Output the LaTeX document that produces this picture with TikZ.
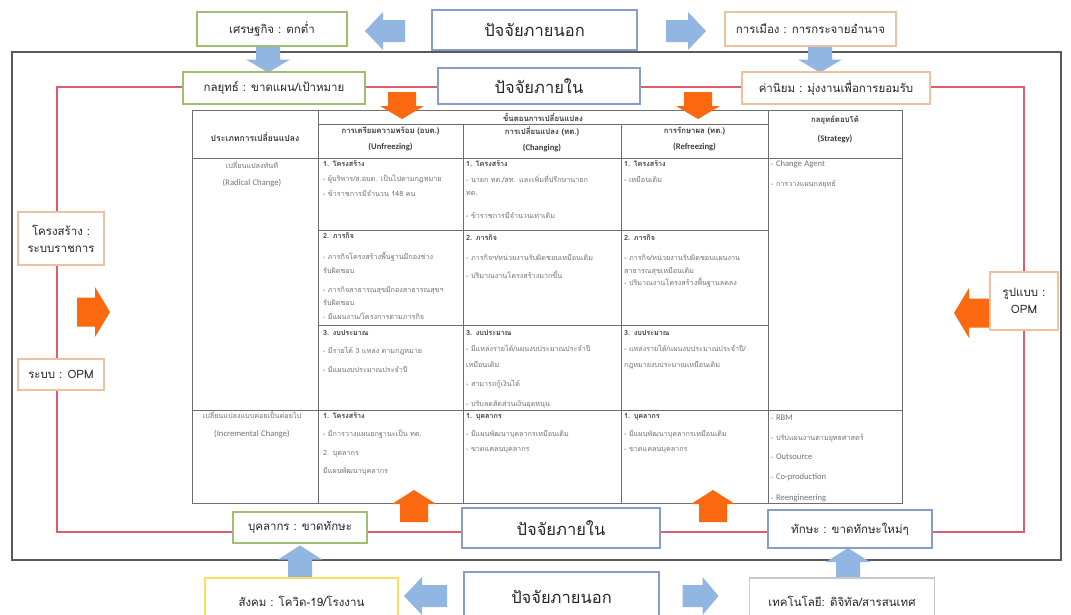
\documentclass[tikz,border=0pt]{standalone}
\usepackage{fontspec}
\setmainfont{Loma}[Script=Thai]
\newfontfamily\latfont{Carlito}
\definecolor{framegray}{RGB}{90,90,90}
\definecolor{redline}{RGB}{222,92,110}
\definecolor{bgreen}{RGB}{160,190,112}
\definecolor{bblue}{RGB}{132,158,200}
\definecolor{borange}{RGB}{236,192,160}
\definecolor{byellow}{RGB}{255,222,90}
\definecolor{bgrey}{RGB}{200,200,200}
\definecolor{arrblue}{RGB}{145,182,225}
\definecolor{arrorange}{RGB}{250,105,15}
\definecolor{tline}{RGB}{110,110,110}
\definecolor{ttext}{RGB}{115,115,115}
\definecolor{thead}{RGB}{60,60,60}
\newcommand\cellhead[1]{{\color{thead}\bfseries #1}}
\newcommand\lat[1]{{\latfont\fontsize{8.6}{15}\selectfont #1}}
\tikzset{
  box/.style={draw, fill=white, line width=1.2pt, inner sep=2pt, align=center,
    text=black!85, font=\fontsize{11.5}{17}\selectfont},
  factor/.style={box, font=\fontsize{16.5}{20}\selectfont},
  cell/.style={anchor=base west, inner sep=0pt, align=left, text width=150pt,
    text=ttext, font=\fontsize{7.2}{15}\selectfont},
  headtxt/.style={inner sep=0pt, align=center, text=thead,
    font=\bfseries\fontsize{7.8}{16}\selectfont},
  % block arrow pointing along +x, centred on its origin:
  % length, head width, shaft width, head length, colour
  pics/barrow/.style n args={5}{code={
    \fill[#5] (-#1/2,-#3/2) -- (#1/2-#4,-#3/2) -- (#1/2-#4,-#2/2) -- (#1/2,0)
      -- (#1/2-#4,#2/2) -- (#1/2-#4,#3/2) -- (-#1/2,#3/2) -- cycle;
  }}
}
\begin{document}
\begin{tikzpicture}[x=1pt,y=-1pt]
\useasboundingbox (0,0) rectangle (1071,614);
\clip (0,0) rectangle (1071,614);
\fill[white] (0,0) rectangle (1071,614);

% organisation frame and internal-factor loop
\draw[framegray, line width=1.6pt] (12,52) rectangle (1061,560);
\draw[redline, line width=1.3pt] (57,87) rectangle (1024,532);

% ---------- change table ----------
\draw[tline, line width=0.8pt] (192,110) rectangle (902,503);
\draw[tline, line width=0.8pt]
  (318,110) -- (318,503) (768,110) -- (768,503)
  (463,124) -- (463,503) (621,124) -- (621,503)
  (318,124) -- (768,124)
  (192,158) -- (902,158)
  (318,230) -- (768,230)
  (318,325) -- (768,325)
  (192,410) -- (902,410);

% header
\node[headtxt, font=\bfseries\fontsize{8.6}{16}\selectfont] (hType) at (255,137) {ประเภทการเปลี่ยนแปลง};
\node[headtxt] (hSteps) at (543,117) {ขั้นตอนการเปลี่ยนแปลง};
\node[headtxt] (hUnf) at (390.5,139) {การเตรียมความพร้อม (อบต.)\\\lat{(Unfreezing)}};
\node[headtxt] (hChg) at (542,139) {การเปลี่ยนแปลง (ทต.)\\\lat{(Changing)}};
\node[headtxt] (hRef) at (694.5,139) {การรักษาผล (ทต.)\\\lat{(Refreezing)}};
\node[headtxt] (hStr) at (835,129) {กลยุทธ์ตอบโต้\\[3pt]\lat{(Strategy)}};

% row 1 : radical change
\node[cell, anchor=center, align=center, text width=120pt] (rRad) at (252,174)
  {เปลี่ยนแปลงทันที\\[2pt]\lat{(Radical Change)}};
\node[cell] (u1) at (323,166) {\cellhead{1. โครงสร้าง}\\[0.5pt]
  - ผู้บริหาร/ส.อบต. เป็นไปตามกฎหมาย\\
  - ข้าราชการมีจำนวน 148 คน};
\node[cell] (u2) at (323,238) {\cellhead{2. ภารกิจ}\\[6pt]
  - ภารกิจโครงสร้างพื้นฐานมีกองช่าง\\[-1pt]
  รับผิดชอบ\\[4pt]
  - ภารกิจสาธารณสุขมีกองสาธารณสุขฯ\\[-2pt]
  รับผิดชอบ\\[-1pt]
  - มีแผนงาน/โครงการตามภารกิจ};
\node[cell] (u3) at (323,335) {\cellhead{3. งบประมาณ}\\[3pt]
  - มีรายได้ 3 แหล่ง ตามกฎหมาย\\[4pt]
  - มีแผนงบประมาณประจำปี};
\node[cell] (c1) at (466,166) {\cellhead{1. โครงสร้าง}\\[1pt]
  - นายก ทต./สท. และเพิ่มที่ปรึกษานายก\\[-2pt]
  ทต.\\[8pt]
  - ข้าราชการมีจำนวนเท่าเดิม};
\node[cell] (c2) at (466,240) {\cellhead{2. ภารกิจ}\\[5pt]
  - ภารกิจฯ/หน่วยงานรับผิดชอบเหมือนเดิม\\[3pt]
  - ปริมาณงานโครงสร้างมากขึ้น};
\node[cell] (c3) at (466,335) {\cellhead{3. งบประมาณ}\\[1pt]
  - มีแหล่งรายได้/แผนงบประมาณประจำปี\\[1pt]
  เหมือนเดิม\\[4pt]
  - สามารถกู้เงินได้\\[5pt]
  - ปรับลดสัดส่วนเงินอุดหนุน};
\node[cell] (f1) at (624,166) {\cellhead{1. โครงสร้าง}\\[1pt]
  - เหมือนเดิม};
\node[cell] (f2) at (624,240) {\cellhead{2. ภารกิจ}\\[5pt]
  - ภารกิจ/หน่วยงานรับผิดชอบแผนงาน\\[-2pt]
  สาธารณสุขเหมือนเดิม\\[-3pt]
  - ปริมาณงานโครงสร้างพื้นฐานลดลง};
\node[cell] (f3) at (624,335) {\cellhead{3. งบประมาณ}\\[1pt]
  - แหล่งรายได้/แผนงบประมาณประจำปี/\\[1pt]
  กฎหมายงบประมาณเหมือนเดิม};
\node[cell] (s1) at (771,166) {- \lat{Change Agent}\\[5pt]
  - การวางแผนกลยุทธ์};

% row 2 : incremental change
\node[cell, anchor=center, align=center, text width=124pt] (rInc) at (252,425)
  {เปลี่ยนแปลงแบบค่อยเป็นค่อยไป\\[3pt]\lat{(Incremental Change)}};
\node[cell] (u4) at (323,418) {\cellhead{1. โครงสร้าง}\\[3pt]
  - มีการวางแผนยกฐานะเป็น ทต.\\[4pt]
  2. บุคลากร\\[3pt]
  มีแผนพัฒนาบุคลากร};
\node[cell] (c4) at (466,418) {\cellhead{1. บุคลากร}\\[3pt]
  - มีแผนพัฒนาบุคลากรเหมือนเดิม\\
  - ขาดแคลนบุคลากร};
\node[cell] (f4) at (624,418) {\cellhead{1. บุคลากร}\\[3pt]
  - มีแผนพัฒนาบุคลากรเหมือนเดิม\\
  - ขาดแคลนบุคลากร};
\node[cell] (s2) at (771,420) {- \lat{RBM}\\[5pt]
  - ปรับแผนงานตามยุทธศาสตร์\\[4pt]
  - \lat{Outsource}\\[5pt]
  - \lat{Co-production}\\[6pt]
  - \lat{Reengineering}};

% ---------- arrows ----------
% external factors (blue)
\pic at (385,31) [rotate=180] {barrow={40}{38}{22}{18}{arrblue}};
\pic at (686,31) {barrow={40}{38}{22}{18}{arrblue}};
\pic at (268,59) [rotate=-90] {barrow={27}{44}{24}{13}{arrblue}};
\pic at (820,59) [rotate=-90] {barrow={27}{44}{24}{13}{arrblue}};
\pic at (425.5,596) [rotate=180] {barrow={43}{38}{22}{18}{arrblue}};
\pic at (700.5,596) {barrow={36}{38}{22}{16}{arrblue}};
\pic at (300,562) [rotate=90] {barrow={33}{44}{24}{14}{arrblue}};
\pic at (848,563) [rotate=90] {barrow={30}{44}{24}{14}{arrblue}};
% internal pressure (orange)
\pic at (402,105.5) [rotate=-90] {barrow={27}{44}{28}{13}{arrorange}};
\pic at (698,105.5) [rotate=-90] {barrow={27}{44}{28}{13}{arrorange}};
\pic at (414,506) [rotate=90] {barrow={32}{44}{28}{14}{arrorange}};
\pic at (713,506) [rotate=90] {barrow={32}{44}{28}{14}{arrorange}};
\pic at (93.5,312) {barrow={33}{50}{29}{15}{arrorange}};
\pic at (971.5,313) [rotate=180] {barrow={35}{50}{29}{15}{arrorange}};

% ---------- factor boxes ----------
\node[box, draw=bgreen, minimum width=150pt, minimum height=34pt] (econ) at (272,29) {เศรษฐกิจ : ตกต่ำ};
\node[factor, draw=bblue, minimum width=205pt, minimum height=40pt] (extTop) at (534.5,30) {ปัจจัยภายนอก};
\node[box, draw=borange, minimum width=171pt, minimum height=34pt] (politics) at (810.5,29) {การเมือง : การกระจายอำนาจ};

\node[box, draw=bgreen, minimum width=182pt, minimum height=32pt] (strategy) at (274,88) {กลยุทธ์ : ขาดแผน/เป้าหมาย};
\node[factor, draw=bblue, minimum width=202pt, minimum height=36pt] (intTop) at (539,86) {ปัจจัยภายใน};
\node[box, draw=borange, minimum width=188pt, minimum height=32pt] (values) at (836,88) {ค่านิยม : มุ่งงานเพื่อการยอมรับ};

\node[box, draw=borange, minimum width=86pt, minimum height=53pt] (structure) at (61,238.5) {โครงสร้าง :\\ระบบราชการ};
\node[box, draw=borange, minimum width=86pt, minimum height=31pt] (systemb) at (61,374.5) {ระบบ : OPM};
\node[box, draw=borange, minimum width=68pt, minimum height=58pt] (model) at (1024,301) {รูปแบบ :\\OPM};

\node[box, draw=bgreen, minimum width=134pt, minimum height=31pt] (staff) at (300,527.5) {บุคลากร : ขาดทักษะ};
\node[factor, draw=bblue, minimum width=198pt, minimum height=40pt] (intBot) at (561,528) {ปัจจัยภายใน};
\node[box, draw=bblue, minimum width=164pt, minimum height=38pt] (skill) at (850,529) {ทักษะ : ขาดทักษะใหม่ๆ};

\node[box, draw=byellow, minimum width=193pt, minimum height=46pt] (social) at (301.5,601) {สังคม : โควิด-19/โรงงาน};
\node[factor, draw=bblue, minimum width=195pt, minimum height=50pt] (extBot) at (561.5,597) {ปัจจัยภายนอก};
\node[box, draw=bgrey, minimum width=185pt, minimum height=46pt] (tech) at (842,601) {เทคโนโลยี: ดิจิทัล/สารสนเทศ};
\end{tikzpicture}
\end{document}
